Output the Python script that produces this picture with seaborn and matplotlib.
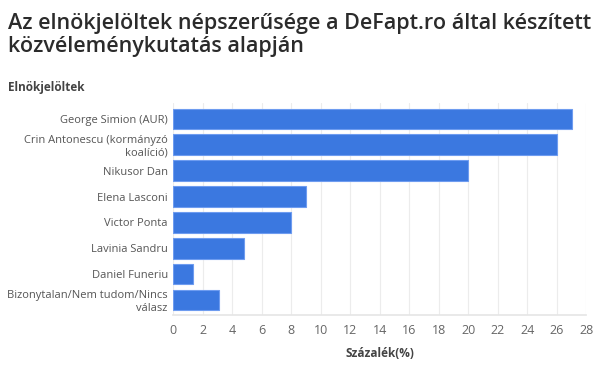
import matplotlib
matplotlib.use('Agg')
import matplotlib.pyplot as plt
import seaborn as sns
import pandas as pd

sns.set_theme(style='white')
plt.rcParams['font.family'] = ['Open Sans', 'DejaVu Sans']

# -----------------------------------------------------------------------------
# Data
# -----------------------------------------------------------------------------
candidates = ['George Simion (AUR)', 'Crin Antonescu (kormányzó\nkoalíció)',
              'Nikusor Dan', 'Elena Lasconi', 'Victor Ponta', 'Lavinia Sandru',
              'Daniel Funeriu', 'Bizonytalan/Nem tudom/Nincs\nválasz']
percent = [27, 26, 20, 9, 8, 4.8, 1.3, 3.1]
xticks = list(range(0, 29, 2))

df = pd.DataFrame(dict(jelolt=candidates, szazalek=percent))

# -----------------------------------------------------------------------------
# Plot
# -----------------------------------------------------------------------------
fig = plt.figure(figsize=(6.02, 3.72), dpi=100)
ax = fig.add_axes([0.288, 0.152, 0.686, 0.57])

sns.barplot(data=df, x='szazalek', y='jelolt', color='#3b78e0', saturation=1,
            width=0.8, edgecolor='#6e9cf0', linewidth=0.8, ax=ax, zorder=2)

ax.set_xlim(0, 28)
ax.set_ylim(7.6, -0.6)
ax.set_xticks(xticks)
ax.grid(axis='x', color='#ececec', linewidth=0.8, zorder=0)
ax.set_axisbelow(True)
for s in ['top', 'right', 'left']:
    ax.spines[s].set_visible(False)
ax.spines['bottom'].set_color('#e6e6e6')
ax.tick_params(axis='y', labelsize=8, colors='#555555', length=0, pad=4)
ax.tick_params(axis='x', labelsize=9, colors='#666666', length=0, pad=6)
for t in ax.get_yticklabels():
    t.set_horizontalalignment('right')
    t.set_linespacing(1.15)

ax.set_ylabel('')
ax.set_xlabel('Százalék(%)', fontsize=8.5, fontweight='bold', color='#444444', labelpad=7)

fig.text(0.013, 0.965, 'Az elnökjelöltek népszerűsége a DeFapt.ro által készített\nközvéleménykutatás alapján',
         fontsize=15.5, fontweight='semibold', color='#2b2b2b', va='top', ha='left',
         linespacing=1.1)
fig.text(0.013, 0.765, 'Elnökjelöltek', fontsize=8.5, fontweight='bold', color='#444444',
         va='center', ha='left')

fig.savefig('out.png', dpi=100)
